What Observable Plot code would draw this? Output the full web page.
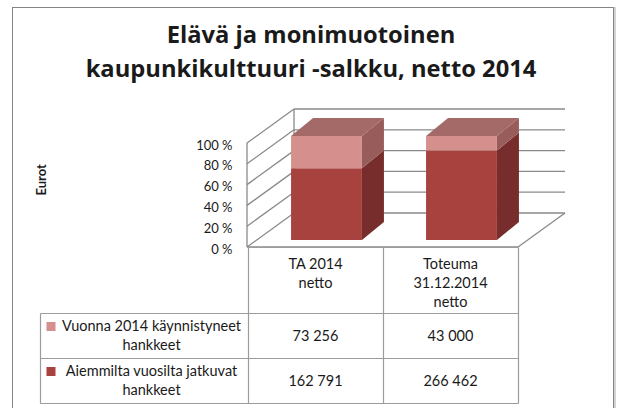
<!DOCTYPE html>
<html>
<head>
<meta charset="utf-8">
<script src="https://cdn.jsdelivr.net/npm/d3@7"></script>
<script src="https://cdn.jsdelivr.net/npm/@observablehq/plot@0.6"></script>
<style>
  body { margin: 0; background: #fff; }
  #wrap { position: relative; width: 622px; height: 408px; overflow: hidden; font-family: Lato, "Open Sans", sans-serif; color: #1a1a1a; }
  #frame { position: absolute; left: 12px; top: 7px; width: 600px; height: 420px; border: 1px solid #858585; box-shadow: 2px 0 0 #d4d4d4; }
  #title { position: absolute; left: 0; width: 622px; top: 17px; text-align: center; font-family: "Open Sans", sans-serif; font-weight: 700; font-size: 21px; line-height: 34px; white-space: nowrap; }
  #chart { position: absolute; left: 0; top: 100px; }
  #table { position: absolute; left: 0; top: 0; }
</style>
</head>
<body>
<div id="wrap">
  <div id="frame"></div>
  <div id="title"></div>
  <div id="chart"></div>
  <div id="table"></div>
</div>
<script>
// ---- data ----
const titleLines = ["Elävä ja monimuotoinen", "kaupunkikulttuuri -salkku, netto 2014"];
const categories = ["TA 2014 netto", "Toteuma 31.12.2014 netto"];
const categoryLabelLines = [["TA 2014", "netto"], ["Toteuma", "31.12.2014", "netto"]];
const seriesNames = ["Vuonna 2014 käynnistyneet hankkeet", "Aiemmilta vuosilta jatkuvat hankkeet"];
const seriesLabelLines = [["Vuonna 2014 käynnistyneet", "hankkeet"], ["Aiemmilta vuosilta jatkuvat", "hankkeet"]];
const newProjects = [73256, 43000];
const continuingProjects = [162791, 266462];
const yTicks = [0, 20, 40, 60, 80, 100];
const yLabel = "Eurot";

// ---- styles ----
const colors = {
  newFront: "#d58f8d", newSide: "#985c5a", top: "#a46a67",
  contFront: "#a8423e", contSide: "#772d2b", grid: "#8a8a8a", table: "#9c9c9c", text: "#1a1a1a"
};
const DX = 47, DY = -34;          // wall depth
const FX = 11, FY = -7;           // bar front plane offset
const BX = 22, BY = -18;          // bar depth
const BAR_FRAC = 0.525;
const FONT = "Lato, 'Open Sans', sans-serif";

// title: fit second line to the reference width
(function () {
  const el = document.getElementById("title");
  el.innerHTML = titleLines.join("<br>");
  const ctx = document.createElement("canvas").getContext("2d");
  ctx.font = "700 100px 'Open Sans'";
  const w = ctx.measureText(titleLines[1]).width;
  if (w > 0) {
    const fs = Math.min(24, Math.max(18, 100 * 451 / w));
    el.style.fontSize = fs + "px";
    const base = (34 - 1.362 * fs) / 2 + 1.069 * fs;
    el.style.top = (43 - base) + "px";
  }
})();

const fmt = v => d3.format(",")(v).replace(/,/g, " ");

// stacked percentages
const stack = [];
categories.forEach((c, i) => {
  const total = newProjects[i] + continuingProjects[i];
  const p = continuingProjects[i] / total * 100;
  stack.push({cat: c, series: seriesNames[1], y1: 0, y2: p, top: false});
  stack.push({cat: c, series: seriesNames[0], y1: p, y2: 100, top: true});
});

function walls(index, scales, values, dims) {
  const g = d3.create("svg:g").attr("fill", "none").attr("stroke", colors.grid).attr("stroke-width", 1.3);
  const x0 = dims.marginLeft, x1 = dims.width - dims.marginRight;
  const yb = scales.y(0), yt = scales.y(100);
  const line = (a, b, c, d) => g.append("line").attr("x1", a).attr("y1", b).attr("x2", c).attr("y2", d);
  line(x0, yb, x0, yt);
  line(x0 + DX, yb + DY, x0 + DX, yt + DY);
  for (const i of index) {
    const y = values.y[i];
    line(x0, y, x0 + DX, y + DY);
    line(x0 + DX, y + DY, x1 + DX, y + DY);
  }
  line(x0, yb, x1, yb);
  line(x1, yb, x1 + DX, yb + DY);
  return g.node();
}

function bars3d(index, scales, values, dims) {
  const g = d3.create("svg:g");
  let bw = scales.x.bandwidth;
  if (typeof bw === "function") bw = bw();
  if (!bw) bw = (dims.width - dims.marginLeft - dims.marginRight) / categories.length;
  const w = bw * BAR_FRAC;
  const poly = (pts, fill) => g.append("polygon").attr("points", pts.map(p => p.join(",")).join(" ")).attr("fill", fill);
  for (const i of index) {
    const d = stack[i];
    const xs = scales.x(d.cat);
    const X0 = xs + bw / 2 - w / 2 + FX, X1 = X0 + w;
    const Yt = scales.y(d.y2) + FY, Yb = scales.y(d.y1) + FY;
    const front = d.top ? colors.newFront : colors.contFront;
    const side = d.top ? colors.newSide : colors.contSide;
    poly([[X1, Yt], [X1 + BX, Yt + BY], [X1 + BX, Yb + BY], [X1, Yb]], side);
    if (d.top) poly([[X0, Yt], [X0 + BX, Yt + BY], [X1 + BX, Yt + BY], [X1, Yt]], colors.top);
    poly([[X0, Yt], [X1, Yt], [X1, Yb], [X0, Yb]], front);
  }
  return g.node();
}

const chart = Plot.plot({
  width: 622, height: 150,
  marginLeft: 247, marginRight: 104, marginTop: 43, marginBottom: 3,
  x: {type: "band", domain: categories, padding: 0, axis: null},
  y: {domain: [0, 100], axis: null},
  style: {background: "transparent", overflow: "visible", fontFamily: FONT, color: colors.text},
  marks: [
    Plot.ruleY(yTicks, {render: walls}),
    Plot.axisY(yTicks, {tickSize: 0, tickPadding: 15, tickFormat: d => d + " %", fontSize: 13, dy: 2, label: null}),
    Plot.text([yLabel], {frameAnchor: "left", dx: -206, rotate: -90, fontWeight: "bold", fontSize: 13}),
    Plot.barY(stack, {x: "cat", y1: "y1", y2: "y2", render: bars3d})
  ]
});
document.getElementById("chart").appendChild(chart);

// ---- data table below the plot, aligned to the x scale (drawn as SVG) ----
const xsc = chart.scale("x");
const top0 = 100 + chart.scale("y").apply(0);   // floor front line in page coords
const rowH = [66, 45, 45];
const legLeft = 40.5;
const colX = categories.map(c => Math.round(xsc.apply(c)) + 0.5);
const colRight = Math.round(xsc.apply(categories[categories.length - 1]) + xsc.bandwidth) + 0.5;
const bw = xsc.bandwidth;
const svg = d3.select("#table").append("svg").attr("width", 622).attr("height", 408)
  .style("font-family", FONT).style("font-size", "14.5px").attr("fill", colors.text);
const L = svg.append("g").attr("stroke", colors.table).attr("stroke-width", 1.2);
const hl = (xa, xb, yy) => L.append("line").attr("x1", xa).attr("x2", xb).attr("y1", yy).attr("y2", yy);
const vl = (xx, ya, yb) => L.append("line").attr("x1", xx).attr("x2", xx).attr("y1", ya).attr("y2", yb);
const rY = [top0, top0 + rowH[0], top0 + rowH[0] + rowH[1], top0 + rowH[0] + rowH[1] + rowH[2]].map(v => Math.round(v) + 0.5);
// header row lines
hl(colX[0], colRight, rY[0]);
hl(legLeft, colRight, rY[1]);
hl(legLeft, colRight, rY[2]);
hl(legLeft, colRight, rY[3]);
colX.forEach(x => vl(x, rY[0], rY[3]));
vl(colRight, rY[0], rY[3]);
vl(legLeft, rY[1], rY[3]);
// header text
categories.forEach((c, j) => {
  const cx = xsc.apply(c) + bw / 2;
  categoryLabelLines[j].forEach((t, m) => {
    svg.append("text").attr("x", cx).attr("y", rY[0] + 21 + m * 19).attr("text-anchor", "middle").text(t);
  });
});
// series rows
const rowSeries = [
  {lines: seriesLabelLines[0], vals: newProjects, color: colors.newFront},
  {lines: seriesLabelLines[1], vals: continuingProjects, color: colors.contFront}
];
const legTextCx = (legLeft + 18 + colX[0] - 4) / 2;
rowSeries.forEach((r, k) => {
  const ya = rY[k + 1], yb = rY[k + 2];
  const cy = (ya + yb) / 2;
  svg.append("rect").attr("x", legLeft + 6).attr("y", cy - 14).attr("width", 9).attr("height", 9).attr("fill", r.color);
  r.lines.forEach((t, m) => {
    svg.append("text").attr("x", legTextCx).attr("y", cy - 5 + m * 19).attr("text-anchor", "middle").text(t);
  });
  categories.forEach((c, j) => {
    svg.append("text").attr("x", xsc.apply(c) + bw / 2).attr("y", cy + 5).attr("text-anchor", "middle").text(fmt(r.vals[j]));
  });
});
</script>
</body>
</html>
